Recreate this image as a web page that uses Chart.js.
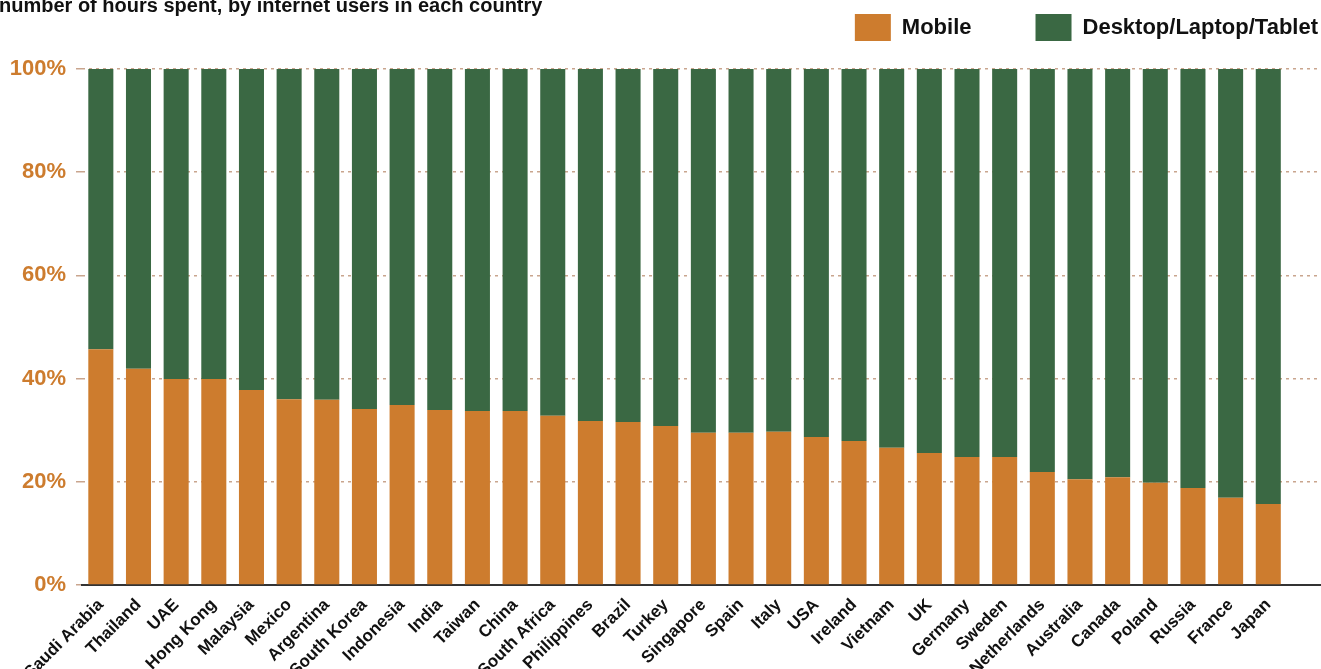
<!DOCTYPE html>
<html>
<head>
<meta charset="utf-8">
<script src="https://cdn.jsdelivr.net/npm/chart.js@4.4.1/dist/chart.umd.min.js"></script>
<style>
  html, body { margin: 0; padding: 0; background: #fff; }
  #wrap { width: 1321px; height: 669px; position: relative; }
</style>
</head>
<body>
<div id="wrap"><canvas id="bar-chart"></canvas></div>
<script>
var countries = ['Saudi Arabia', 'Thailand', 'UAE', 'Hong Kong', 'Malaysia', 'Mexico', 'Argentina',
  'South Korea', 'Indonesia', 'India', 'Taiwan', 'China', 'South Africa', 'Philippines', 'Brazil',
  'Turkey', 'Singapore', 'Spain', 'Italy', 'USA', 'Ireland', 'Vietnam', 'UK', 'Germany', 'Sweden',
  'Netherlands', 'Australia', 'Canada', 'Poland', 'Russia', 'France', 'Japan'];
var mobile = [45.7, 41.9, 39.9, 39.9, 37.8, 36.0, 35.9, 34.1, 34.9, 33.9, 33.7, 33.7, 32.8, 31.8, 31.6,
  30.8, 29.5, 29.5, 29.7, 28.7, 27.9, 26.6, 25.6, 24.8, 24.8, 21.9, 20.5, 20.9, 19.8, 18.8, 16.9, 15.7];
var desktop = [54.3, 58.1, 60.1, 60.1, 62.2, 64.0, 64.1, 65.9, 65.1, 66.1, 66.3, 66.3, 67.2, 68.2, 68.4,
  69.2, 70.5, 70.5, 70.3, 71.3, 72.1, 73.4, 74.4, 75.2, 75.2, 78.1, 79.5, 79.1, 80.2, 81.2, 83.1, 84.3];
var yTicks = [0, 20, 40, 60, 80, 100];
var titleText = 'number of hours spent, by internet users in each country';

var FONT = '"Liberation Sans", Arial, sans-serif';
var ORANGE = '#cd7c2e';
var GREEN = '#3a6843';

function points(arr) {
  return arr.map(function(v, i) { return {x: i, y: v}; });
}

// title text, partly cut at the top like the source
var titlePlugin = {
  id: 'topTitle',
  afterDraw: function(chart) {
    var ctx = chart.ctx;
    ctx.save();
    ctx.font = 'bold 20px ' + FONT;
    ctx.fillStyle = '#111';
    ctx.textBaseline = 'alphabetic';
    ctx.textAlign = 'left';
    ctx.fillText(titleText, -1, 12);
    ctx.restore();
  }
};

// legend at the top right, drawn from the datasets
var legendPlugin = {
  id: 'rightLegend',
  afterDraw: function(chart) {
    var ctx = chart.ctx;
    var sets = chart.data.datasets;
    ctx.save();
    ctx.font = 'bold 22px ' + FONT;
    ctx.textBaseline = 'middle';
    ctx.textAlign = 'left';
    var x = chart.width - 3;
    for (var i = sets.length - 1; i >= 0; i--) {
      var tw = ctx.measureText(sets[i].label).width;
      var tx = x - tw;
      var bx = tx - 11 - 36;
      ctx.fillStyle = sets[i].backgroundColor;
      ctx.fillRect(bx, 14, 36, 27);
      ctx.fillStyle = '#111';
      ctx.fillText(sets[i].label, tx, 28);
      x = bx - 64;
    }
    ctx.restore();
  }
};

var myChart = new Chart(document.getElementById('bar-chart'), {
  type: 'bar',
  data: {
    datasets: [{
      label: 'Mobile',
      data: points(mobile),
      backgroundColor: ORANGE,
      borderWidth: 0
    }, {
      label: 'Desktop/Laptop/Tablet',
      data: points(desktop),
      backgroundColor: GREEN,
      borderWidth: 0
    }]
  },
  options: {
    responsive: true,
    maintainAspectRatio: false,
    animation: false,
    devicePixelRatio: 1,
    layout: { padding: { top: 69, left: 0, right: 0, bottom: 0 } },
    datasets: {
      bar: { categoryPercentage: 1, barPercentage: 0.665 }
    },
    plugins: {
      legend: { display: false },
      title: { display: false },
      tooltip: { enabled: false }
    },
    scales: {
      x: {
        type: 'linear',
        stacked: true,
        offset: false,
        min: -0.5,
        max: 32.4,
        grid: { display: false },
        border: { display: true, color: '#333', width: 2 },
        afterBuildTicks: function(scale) {
          scale.ticks = countries.map(function(c, i) { return {value: i}; });
        },
        afterFit: function(scale) {
          scale.height = 84;
          scale.paddingLeft = 0;
          scale.paddingRight = 0;
        },
        ticks: {
          autoSkip: false,
          maxRotation: 45,
          minRotation: 45,
          padding: 2,
          color: '#111',
          font: { family: FONT, size: 17, weight: 'bold' },
          callback: function(v) { return countries[v] !== undefined ? countries[v] : ''; }
        }
      },
      y: {
        stacked: true,
        min: 0,
        max: 100,
        afterFit: function(scale) { scale.width = 82; },
        afterBuildTicks: function(scale) {
          scale.ticks = yTicks.map(function(v) { return {value: v}; });
        },
        grid: {
          color: '#c9a58e',
          lineWidth: 1.5,
          tickLength: 6
        },
        border: { display: false, dash: [3, 4] },
        ticks: {
          padding: 10,
          color: ORANGE,
          font: { family: FONT, size: 22, weight: 'bold' },
          callback: function(v) { return v + '%'; }
        }
      }
    }
  },
  plugins: [titlePlugin, legendPlugin]
});
</script>
</body>
</html>
